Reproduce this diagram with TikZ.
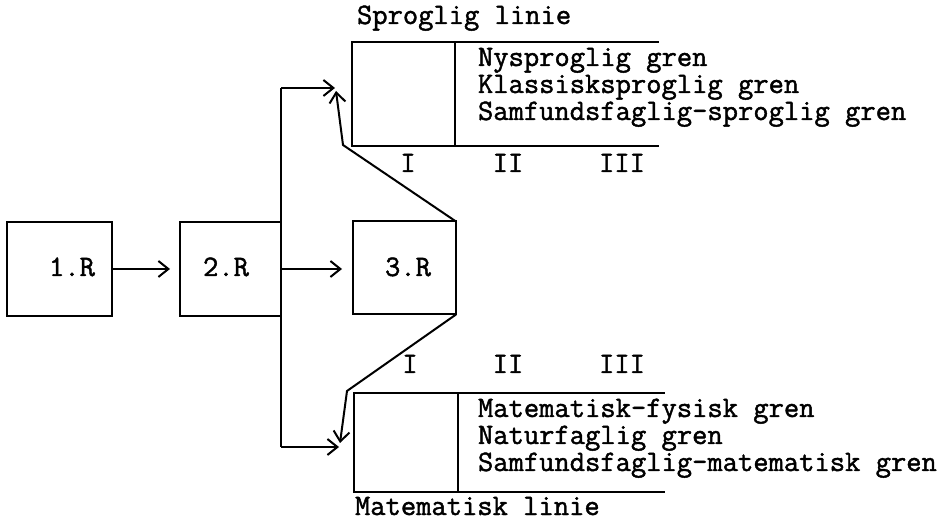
\documentclass[tikz,border=0pt]{standalone}
\usepackage{fontspec}
\newfontfamily\tw[FakeBold=1.5]{Latin Modern Mono}
\usetikzlibrary{arrows.meta}
\begin{document}
\begin{tikzpicture}[x=1pt,y=-1pt,
  ln/.style={line width=2pt},
  box/.style={draw,line width=2pt,rectangle,inner sep=0pt,outer sep=0pt},
  arr/.style={ln,-{Straight Barb[length=10pt,width=16pt]}},
  txt/.style={font=\tw\fontsize{29.7}{30}\selectfont,inner sep=0pt,outer sep=0pt},
]
\useasboundingbox (0,0) rectangle (948,526);
% R boxes
\node[box,minimum width=105pt,minimum height=94pt] (r1) at (59.5,269) {};
\node[box,minimum width=101pt,minimum height=94pt] (r2) at (230.5,269) {};
\node[box,minimum width=103pt,minimum height=93pt] (r3) at (404.5,268) {};
\node[txt,anchor=base] (t1) at (72,276) {1.R};
\node[txt,anchor=base] (t2) at (226,276) {2.R};
\node[txt,anchor=base] (t3) at (408,276) {3.R};
% Sproglig linie
\node[box,minimum width=103pt,minimum height=104pt] (sp) at (403.5,94) {};
\coordinate (spTR) at (659,42);
\coordinate (spBR) at (659,146);
\draw[ln] (sp.north east) -- (spTR);
\draw[ln] (sp.south east) -- (spBR);
% Matematisk linie
\node[box,minimum width=104pt,minimum height=99pt] (ma) at (406,442.5) {};
\coordinate (maTR) at (665,393);
\coordinate (maBR) at (665,492);
\draw[ln] (ma.north east) -- (maTR);
\draw[ln] (ma.south east) -- (maBR);
% connectors
\draw[arr,shorten >=10pt] (r1.east) -- (r2.west);
\draw[arr,shorten >=11pt] (r2.east) -- (r2.east -| r3.west);
\coordinate (vt) at (281,88);
\coordinate (vb) at (281,447);
\draw[ln] (vt) -- (vb);
\coordinate (tipT) at (335,88);
\coordinate (tipT2) at (336,91);
\coordinate (kt) at (343,145);
\draw[arr] (vt) -- (tipT);
\draw[arr] (r3.north east) -- (kt) -- (tipT2);
\coordinate (kb) at (347,391);
\coordinate (tipB) at (340,443);
\coordinate (tipB2) at (339,447);
\draw[arr] (r3.south east) -- (kb) -- (tipB);
\draw[arr] (vb) -- (tipB2);
% texts
\node[txt,anchor=base west] (sl) at (357,24) {Sproglig linie};
\node[txt,anchor=base west] (n1) at (478,66) {Nysproglig gren};
\node[txt,anchor=base west] (n2) at (478,93) {Klassisksproglig gren};
\node[txt,anchor=base west] (n3) at (478,120) {Samfundsfaglig-sproglig gren};
\node[txt,anchor=base] (ti) at (408,172) {I};
\node[txt,anchor=base] (tii) at (508,172) {II};
\node[txt,anchor=base] (tiii) at (622,172) {III};
\node[txt,anchor=base] (bi) at (410,373) {I};
\node[txt,anchor=base] (bii) at (508,373) {II};
\node[txt,anchor=base] (biii) at (622,373) {III};
\node[txt,anchor=base west] (m1) at (478,417) {Matematisk-fysisk gren};
\node[txt,anchor=base west] (m2) at (478,444) {Naturfaglig gren};
\node[txt,anchor=base west] (m3) at (478,471) {Samfundsfaglig-matematisk gren};
\node[txt,anchor=base west] (ml) at (355,515) {Matematisk linie};
\end{tikzpicture}
\end{document}
